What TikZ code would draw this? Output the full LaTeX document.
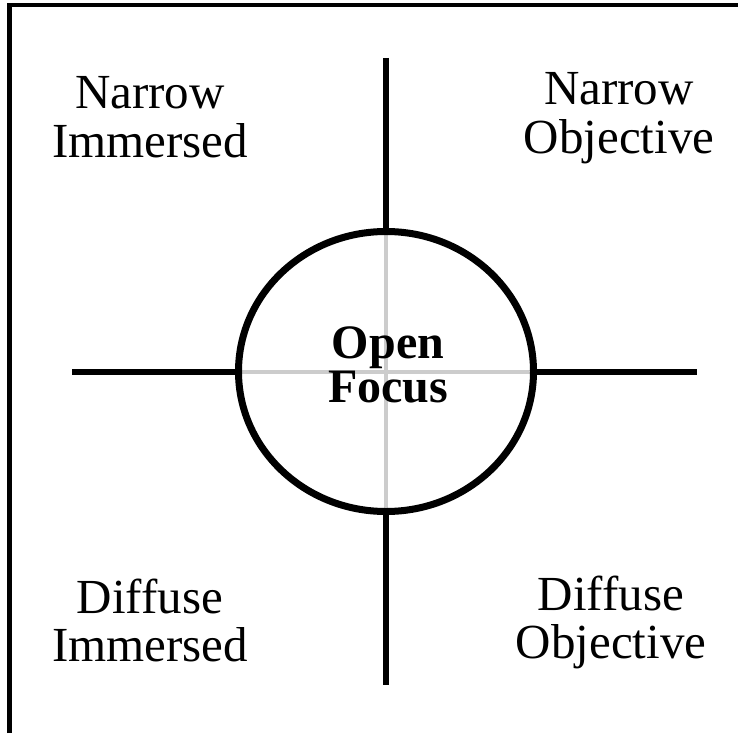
\documentclass[tikz,border=0pt]{standalone}
\usepackage{fontspec}
\setmainfont{Liberation Serif}
\usetikzlibrary{shapes.geometric}
\tikzset{
  quadlabel/.style={anchor=base, align=center, inner sep=0pt, font=\fontsize{49}{48}\selectfont},
  axisline/.style={line width=6pt, black},
  innerline/.style={line width=4pt, color=black!20},
  focusring/.style={ellipse, inner sep=0pt, outer sep=0pt, minimum width=295pt, minimum height=280pt},
  frameline/.style={line width=4.5pt, black}
}
\begin{document}
\begin{tikzpicture}[x=1pt, y=-1pt]
\useasboundingbox (0,0) rectangle (738,733);
% frame (top and left only)
\coordinate (f1) at (9.5,733);
\coordinate (f2) at (9.5,5);
\coordinate (f3) at (738,5);
\draw[frameline] (f1) -- (f2) -- (f3);
% ring
\node[focusring] (ring) at (386,371.5) {};
% axes ends
\coordinate (top) at (386,58);
\coordinate (bot) at (386,685);
\coordinate (lft) at (72,371.5);
\coordinate (rgt) at (697,371.5);
% inner gray axes
\draw[innerline] (ring.north) -- (ring.south);
\draw[innerline] (ring.west) -- (ring.east);
% outer black axes
\draw[axisline] (top) -- (ring.north);
\draw[axisline] (ring.south) -- (bot);
\draw[axisline] (lft) -- (ring.west);
\draw[axisline] (ring.east) -- (rgt);
% ring outline on top
\draw[line width=7pt] (ring.center) ellipse [x radius=147.5, y radius=140];
% labels (base anchor = baseline of the last line)
\node[quadlabel] (ni) at (150,157) {Narrow\\Immersed};
\node[quadlabel] (no) at (619,153) {Narrow\\Objective};
\node[quadlabel] (di) at (150,661) {Diffuse\\Immersed};
\node[quadlabel] (do) at (611,658) {Diffuse\\Objective};
\node[anchor=base, align=center, inner sep=0pt, font=\fontsize{48}{44}\selectfont\bfseries] (of) at (388,402) {Open\\Focus};
\end{tikzpicture}
\end{document}
